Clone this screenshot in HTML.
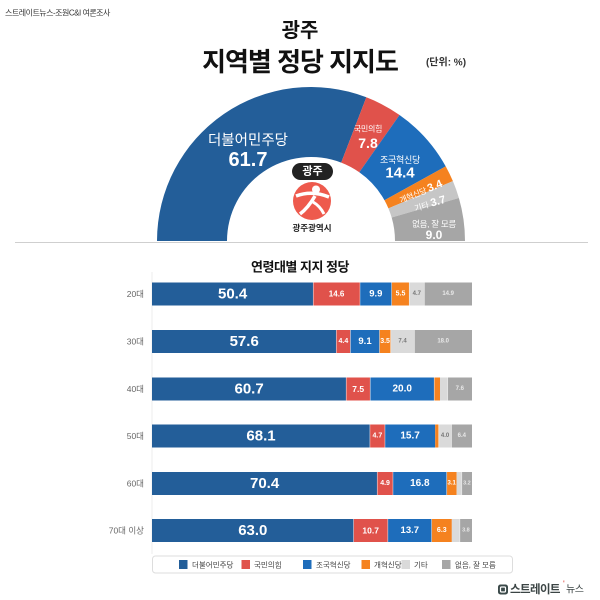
<!DOCTYPE html>
<html><head><meta charset="utf-8"><style>
html,body{margin:0;padding:0;background:#fff;}
svg{display:block;}
text{font-family:"Liberation Sans","Noto Sans CJK KR",sans-serif;}
</style></head><body>
<svg width="600" height="600" viewBox="0 0 600 600" xmlns="http://www.w3.org/2000/svg">
<rect width="600" height="600" fill="#fff"/>
<!-- header -->
<text x="5" y="13" font-size="8" fill="#333" letter-spacing="-0.5" dominant-baseline="central">스트레이트뉴스-조원C&amp;I 여론조사</text>
<text x="300" y="31" font-size="20" font-weight="bold" fill="#111" text-anchor="middle" dominant-baseline="central">광주</text>
<text x="300" y="62" font-size="26" font-weight="bold" fill="#111" text-anchor="middle" dominant-baseline="central" letter-spacing="-1">지역별 정당 지지도</text>
<text x="446" y="63" font-size="10" font-weight="bold" fill="#333" text-anchor="middle" dominant-baseline="central">(단위: %)</text>

<!-- donut -->
<path d="M157,241 A154,154 0 0 1 366.35,97.29 L341.19,162.61 A84,84 0 0 0 227,241 Z" fill="#235e99"/>
<path d="M366.35,97.29 A154,154 0 0 1 399.55,115.01 L359.30,172.28 A84,84 0 0 0 341.19,162.61 Z" fill="#e0524b"/>
<path d="M399.55,115.01 A154,154 0 0 1 445.72,166.39 L384.48,200.30 A84,84 0 0 0 359.30,172.28 Z" fill="#1e6dbb"/>
<path d="M445.72,166.39 A154,154 0 0 1 452.91,181.17 L388.41,208.37 A84,84 0 0 0 384.48,200.30 Z" fill="#f5821f"/>
<path d="M452.91,181.17 A154,154 0 0 1 458.89,198.03 L391.67,217.56 A84,84 0 0 0 388.41,208.37 Z" fill="#c6c6c6"/>
<path d="M458.89,198.03 A154,154 0 0 1 465,241 L395,241 A84,84 0 0 0 391.67,217.56 Z" fill="#a6a6a6"/>

<text x="248" y="141" font-size="14.5" fill="#fff" text-anchor="middle" dominant-baseline="central">더불어민주당</text>
<text x="248" y="160" font-size="20" font-weight="bold" fill="#fff" text-anchor="middle" dominant-baseline="central">61.7</text>
<text x="368" y="129" font-size="8" fill="#fff" text-anchor="middle" dominant-baseline="central" letter-spacing="-0.3">국민의힘</text>
<text x="368" y="143" font-size="14" font-weight="bold" fill="#fff" text-anchor="middle" dominant-baseline="central">7.8</text>
<text x="400" y="160" font-size="9" fill="#fff" text-anchor="middle" dominant-baseline="central" letter-spacing="-0.3">조국혁신당</text>
<text x="400" y="173" font-size="15" font-weight="bold" fill="#fff" text-anchor="middle" dominant-baseline="central">14.4</text>
<g transform="translate(421,192) rotate(-22)">
<text x="0" y="0" text-anchor="middle" dominant-baseline="central" fill="#fff"><tspan font-size="8" letter-spacing="-0.3">개혁신당 </tspan><tspan font-size="11" font-weight="bold">3.4</tspan></text>
</g>
<g transform="translate(430,204) rotate(-16)">
<text x="0" y="0" text-anchor="middle" dominant-baseline="central" fill="#fff"><tspan font-size="8">기타 </tspan><tspan font-size="11" font-weight="bold">3.7</tspan></text>
</g>
<text x="434" y="224" font-size="8.5" fill="#fff" text-anchor="middle" dominant-baseline="central" letter-spacing="-0.3">없음, 잘 모름</text>
<text x="434" y="235" font-size="12" font-weight="bold" fill="#fff" text-anchor="middle" dominant-baseline="central">9.0</text>

<!-- center badge & logo -->
<rect x="292" y="163" width="41" height="17" rx="8.5" fill="#222"/>
<text x="312.5" y="171.5" font-size="11" font-weight="bold" fill="#fff" text-anchor="middle" dominant-baseline="central">광주</text>
<circle cx="312" cy="201" r="19" fill="#ee5a4d"/>
<circle cx="316" cy="189.5" r="4" fill="#fff"/>
<path d="M296,196 Q312,190 329,197" stroke="#fff" stroke-width="3.5" fill="none"/>
<path d="M315,196 Q308,208 300,214" stroke="#fff" stroke-width="3.5" fill="none"/>
<path d="M313,202 Q320,206 324,214" stroke="#fff" stroke-width="3" fill="none"/>
<text x="312" y="228" font-size="8.5" font-weight="bold" fill="#222" text-anchor="middle" dominant-baseline="central">광주광역시</text>

<line x1="15" y1="242.5" x2="588" y2="242.5" stroke="#cfcfcf" stroke-width="1"/>

<!-- bar chart -->
<text x="300" y="267" font-size="13" font-weight="bold" fill="#111" text-anchor="middle" dominant-baseline="central" letter-spacing="-0.5">연령대별 지지 정당</text>
<line x1="152" y1="272" x2="152" y2="554" stroke="#eeeeee" stroke-width="1"/>

<g font-weight="bold" text-anchor="middle" dominant-baseline="central" stroke="none">
<!-- 20대 -->
<text x="144" y="294" font-size="8.5" font-weight="normal" fill="#666" text-anchor="end">20대</text>
<rect x="152" y="282.5" width="161.28" height="23" fill="#235e99"/>
<rect x="313.28" y="282.5" width="46.72" height="23" fill="#e0524b"/>
<rect x="360" y="282.5" width="31.68" height="23" fill="#1e6dbb"/>
<rect x="391.68" y="282.5" width="17.6" height="23" fill="#f5821f"/>
<rect x="409.28" y="282.5" width="15.04" height="23" fill="#dadada"/>
<rect x="424.32" y="282.5" width="47.68" height="23" fill="#a6a6a6"/>
<text x="232.6" y="294" font-size="15" fill="#fff">50.4</text>
<text x="336.6" y="294" font-size="8" fill="#fff">14.6</text>
<text x="375.8" y="294" font-size="9.5" fill="#fff">9.9</text>
<text x="400.5" y="294" font-size="7" fill="#fff">5.5</text>
<text x="416.8" y="294" font-size="6" fill="#777">4.7</text>
<text x="448.2" y="294" font-size="6" fill="#e8e8e8">14.9</text>
<!-- 30대 -->
<text x="144" y="341.5" font-size="8.5" font-weight="normal" fill="#666" text-anchor="end">30대</text>
<rect x="152" y="330" width="184.32" height="23" fill="#235e99"/>
<rect x="336.32" y="330" width="14.08" height="23" fill="#e0524b"/>
<rect x="350.4" y="330" width="29.12" height="23" fill="#1e6dbb"/>
<rect x="379.52" y="330" width="11.2" height="23" fill="#f5821f"/>
<rect x="390.72" y="330" width="23.68" height="23" fill="#dadada"/>
<rect x="414.4" y="330" width="57.6" height="23" fill="#a6a6a6"/>
<text x="244.2" y="341.5" font-size="15" fill="#fff">57.6</text>
<text x="343.4" y="341.5" font-size="7" fill="#fff">4.4</text>
<text x="365" y="341.5" font-size="9.5" fill="#fff">9.1</text>
<text x="385.1" y="341.5" font-size="7" fill="#fff">3.5</text>
<text x="402.6" y="341.5" font-size="6" fill="#777">7.4</text>
<text x="443.2" y="341.5" font-size="6" fill="#e8e8e8">18.0</text>
<!-- 40대 -->
<text x="144" y="389" font-size="8.5" font-weight="normal" fill="#666" text-anchor="end">40대</text>
<rect x="152" y="377.5" width="194.24" height="23" fill="#235e99"/>
<rect x="346.24" y="377.5" width="24" height="23" fill="#e0524b"/>
<rect x="370.24" y="377.5" width="64" height="23" fill="#1e6dbb"/>
<rect x="434.24" y="377.5" width="5.76" height="23" fill="#f5821f"/>
<rect x="440" y="377.5" width="7.68" height="23" fill="#dadada"/>
<rect x="447.68" y="377.5" width="24.32" height="23" fill="#a6a6a6"/>
<text x="249.1" y="389" font-size="15" fill="#fff">60.7</text>
<text x="358.2" y="389" font-size="8.5" fill="#fff">7.5</text>
<text x="402.2" y="389" font-size="10" fill="#fff">20.0</text>
<text x="459.8" y="389" font-size="6" fill="#e8e8e8">7.6</text>
<!-- 50대 -->
<text x="144" y="436" font-size="8.5" font-weight="normal" fill="#666" text-anchor="end">50대</text>
<rect x="152" y="424.5" width="217.92" height="23" fill="#235e99"/>
<rect x="369.92" y="424.5" width="15.04" height="23" fill="#e0524b"/>
<rect x="384.96" y="424.5" width="50.24" height="23" fill="#1e6dbb"/>
<rect x="435.2" y="424.5" width="3.52" height="23" fill="#f5821f"/>
<rect x="438.72" y="424.5" width="12.8" height="23" fill="#dadada"/>
<rect x="451.52" y="424.5" width="20.48" height="23" fill="#a6a6a6"/>
<text x="261" y="436" font-size="15" fill="#fff">68.1</text>
<text x="377.4" y="436" font-size="7" fill="#fff">4.7</text>
<text x="410.1" y="436" font-size="10" fill="#fff">15.7</text>
<text x="445.1" y="436" font-size="6" fill="#777">4.0</text>
<text x="461.8" y="436" font-size="6" fill="#e8e8e8">6.4</text>
<!-- 60대 -->
<text x="144" y="483.5" font-size="8.5" font-weight="normal" fill="#666" text-anchor="end">60대</text>
<rect x="152" y="472" width="225.28" height="23" fill="#235e99"/>
<rect x="377.28" y="472" width="15.68" height="23" fill="#e0524b"/>
<rect x="392.96" y="472" width="53.76" height="23" fill="#1e6dbb"/>
<rect x="446.72" y="472" width="9.92" height="23" fill="#f5821f"/>
<rect x="456.64" y="472" width="5.12" height="23" fill="#dadada"/>
<rect x="461.76" y="472" width="10.24" height="23" fill="#a6a6a6"/>
<text x="264.6" y="483.5" font-size="15" fill="#fff">70.4</text>
<text x="385.1" y="483.5" font-size="7" fill="#fff">4.9</text>
<text x="419.8" y="483.5" font-size="10" fill="#fff">16.8</text>
<text x="451.7" y="483.5" font-size="6" fill="#fff">3.1</text>
<text x="466.9" y="483.5" font-size="5.5" fill="#e8e8e8">3.2</text>
<!-- 70대 이상 -->
<text x="144" y="530.5" font-size="8.5" font-weight="normal" fill="#666" text-anchor="end">70대 이상</text>
<rect x="152" y="519" width="201.6" height="23" fill="#235e99"/>
<rect x="353.6" y="519" width="34.24" height="23" fill="#e0524b"/>
<rect x="387.84" y="519" width="43.84" height="23" fill="#1e6dbb"/>
<rect x="431.68" y="519" width="20.16" height="23" fill="#f5821f"/>
<rect x="451.84" y="519" width="8" height="23" fill="#dadada"/>
<rect x="459.84" y="519" width="12.16" height="23" fill="#a6a6a6"/>
<text x="252.8" y="530.5" font-size="15" fill="#fff">63.0</text>
<text x="370.7" y="530.5" font-size="8.5" fill="#fff">10.7</text>
<text x="409.8" y="530.5" font-size="9.5" fill="#fff">13.7</text>
<text x="441.8" y="530.5" font-size="7" fill="#fff">6.3</text>
<text x="465.9" y="530.5" font-size="5.5" fill="#e8e8e8">3.8</text>
</g>

<!-- segment separators -->
<g stroke="#ffffff" stroke-opacity="0.6" stroke-width="0.7">
<line x1="313.28" y1="282.5" x2="313.28" y2="305.5"/><line x1="360" y1="282.5" x2="360" y2="305.5"/><line x1="391.68" y1="282.5" x2="391.68" y2="305.5"/><line x1="409.28" y1="282.5" x2="409.28" y2="305.5"/><line x1="424.32" y1="282.5" x2="424.32" y2="305.5"/>
<line x1="336.32" y1="330" x2="336.32" y2="353"/><line x1="350.4" y1="330" x2="350.4" y2="353"/><line x1="379.52" y1="330" x2="379.52" y2="353"/><line x1="390.72" y1="330" x2="390.72" y2="353"/><line x1="414.4" y1="330" x2="414.4" y2="353"/>
<line x1="346.24" y1="377.5" x2="346.24" y2="400.5"/><line x1="370.24" y1="377.5" x2="370.24" y2="400.5"/><line x1="434.24" y1="377.5" x2="434.24" y2="400.5"/><line x1="447.68" y1="377.5" x2="447.68" y2="400.5"/>
<line x1="369.92" y1="424.5" x2="369.92" y2="447.5"/><line x1="384.96" y1="424.5" x2="384.96" y2="447.5"/><line x1="438.72" y1="424.5" x2="438.72" y2="447.5"/><line x1="451.52" y1="424.5" x2="451.52" y2="447.5"/>
<line x1="377.28" y1="472" x2="377.28" y2="495"/><line x1="392.96" y1="472" x2="392.96" y2="495"/><line x1="446.72" y1="472" x2="446.72" y2="495"/><line x1="461.76" y1="472" x2="461.76" y2="495"/>
<line x1="353.6" y1="519" x2="353.6" y2="542"/><line x1="387.84" y1="519" x2="387.84" y2="542"/><line x1="431.68" y1="519" x2="431.68" y2="542"/><line x1="459.84" y1="519" x2="459.84" y2="542"/>
</g>

<!-- legend -->
<rect x="152.5" y="556" width="360" height="17" rx="3" fill="#fff" stroke="#dddddd" stroke-width="1"/>
<g font-size="7.5" fill="#444" dominant-baseline="central">
<rect x="179" y="560" width="8.5" height="9" fill="#235e99"/><text x="192" y="565">더불어민주당</text>
<rect x="241.5" y="560" width="8.5" height="9" fill="#e0524b"/><text x="254" y="565">국민의힘</text>
<rect x="303" y="560" width="8.5" height="9" fill="#1e6dbb"/><text x="316" y="565">조국혁신당</text>
<rect x="361.5" y="560" width="8.5" height="9" fill="#f5821f"/><text x="374" y="565">개혁신당</text>
<rect x="401.5" y="560" width="8.5" height="9" fill="#dadada"/><text x="414" y="565">기타</text>
<rect x="442" y="560" width="8.5" height="9" fill="#a6a6a6"/><text x="455" y="565">없음, 잘 모름</text>
</g>

<!-- bottom-right brand -->
<rect x="498" y="584.5" width="10" height="10" rx="2.5" fill="#3b4a4a"/>
<rect x="500.5" y="587" width="5" height="5" rx="1" fill="none" stroke="#fff" stroke-width="1.2"/>
<text x="510" y="590" font-size="11.5" font-weight="bold" fill="#3b4444" dominant-baseline="central" letter-spacing="-0.6">스트레이트</text>
<text x="563" y="584" font-size="7" font-weight="bold" fill="#e0524b" dominant-baseline="central">'</text>
<text x="566" y="590" font-size="10" fill="#3b4444" dominant-baseline="central" letter-spacing="-0.5">뉴스</text>
</svg>
</body></html>
